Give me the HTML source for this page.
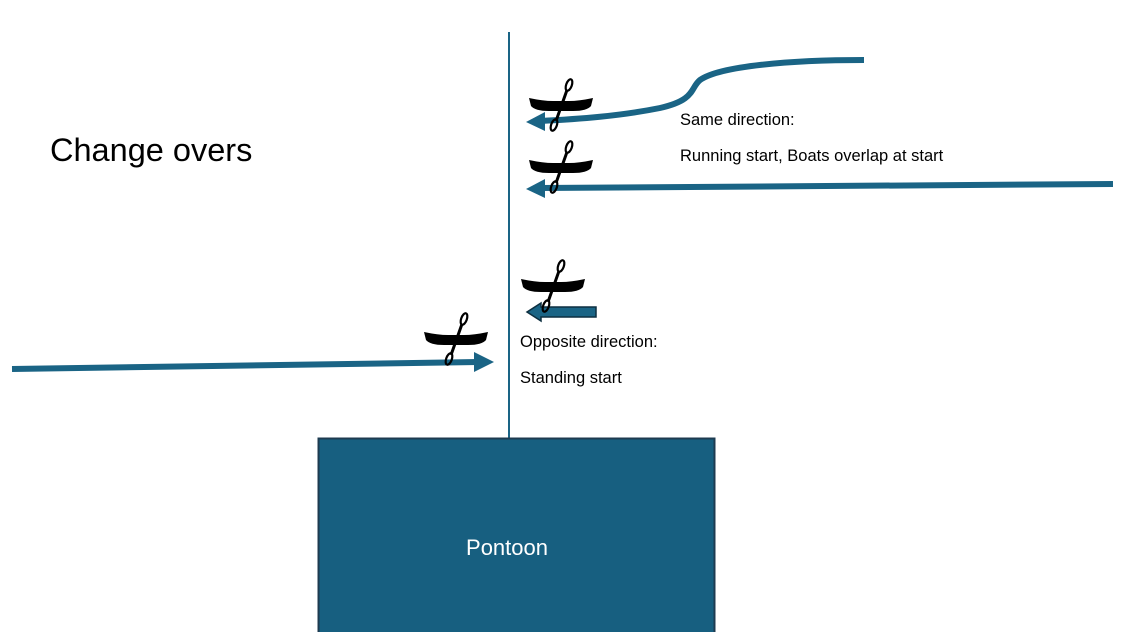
<!DOCTYPE html>
<html><head><style>
html,body{margin:0;padding:0;background:#fff;}
svg{display:block;}
text{font-family:"Liberation Sans",sans-serif;}
</style></head><body>
<svg width="1122" height="632" viewBox="0 0 1122 632" xmlns="http://www.w3.org/2000/svg">
<defs>
<g id="k">
<path d="M-32,-6 Q-18,-3 -8,-3 L8,-3 Q18,-3 32,-6 L30,2 Q26,7 12,7 L-12,7 Q-26,7 -30,2 Z" fill="#000"/>
<line x1="6" y1="-14" x2="-5" y2="17" stroke="#000" stroke-width="3"/>
<ellipse cx="8" cy="-19" rx="2.8" ry="6" transform="rotate(20 8 -19)" fill="none" stroke="#000" stroke-width="2.2"/>
<ellipse cx="-7" cy="21" rx="2.8" ry="6" transform="rotate(20 -7 21)" fill="none" stroke="#000" stroke-width="2.2"/>
</g>
</defs>
<line x1="509" y1="32" x2="509" y2="440" stroke="#1a6485" stroke-width="2"/>
<text x="50" y="161" font-size="32.5" fill="#000">Change overs</text>
<path d="M864,60 C790,60 720,66 700,80 C690,88 696,100 660,108 C620,116 580,119 540,121" fill="none" stroke="#1a6485" stroke-width="6"/>
<polygon points="526,122 545,112 545,131" fill="#1a6485"/>
<line x1="1113" y1="184" x2="540" y2="188" stroke="#1a6485" stroke-width="6"/>
<polygon points="526,189 545,179 545,198" fill="#1a6485"/>
<polygon points="527,312 541,303 541,307 596,307 596,317 541,317 541,321" fill="#1a6485" stroke="#0d2f40" stroke-width="1.5"/>
<line x1="12" y1="369" x2="478" y2="362" stroke="#1a6485" stroke-width="6"/>
<polygon points="494,362 474,352 474,372" fill="#1a6485"/>
<use href="#k" x="561" y="104"/>
<use href="#k" x="561" y="166"/>
<use href="#k" x="553" y="285"/>
<use href="#k" x="456" y="338"/>
<text x="680" y="125" font-size="16.5" fill="#000">Same direction:</text>
<text x="680" y="161" font-size="16.5" fill="#000">Running start, Boats overlap at start</text>
<text x="520" y="347" font-size="16.5" fill="#000">Opposite direction:</text>
<text x="520" y="383" font-size="16.5" fill="#000">Standing start</text>
<rect x="318.5" y="438.5" width="396" height="200" fill="#175f80" stroke="#1e3b50" stroke-width="2"/>
<text x="507" y="555" font-size="22" fill="#fff" text-anchor="middle">Pontoon</text>
</svg>
</body></html>
